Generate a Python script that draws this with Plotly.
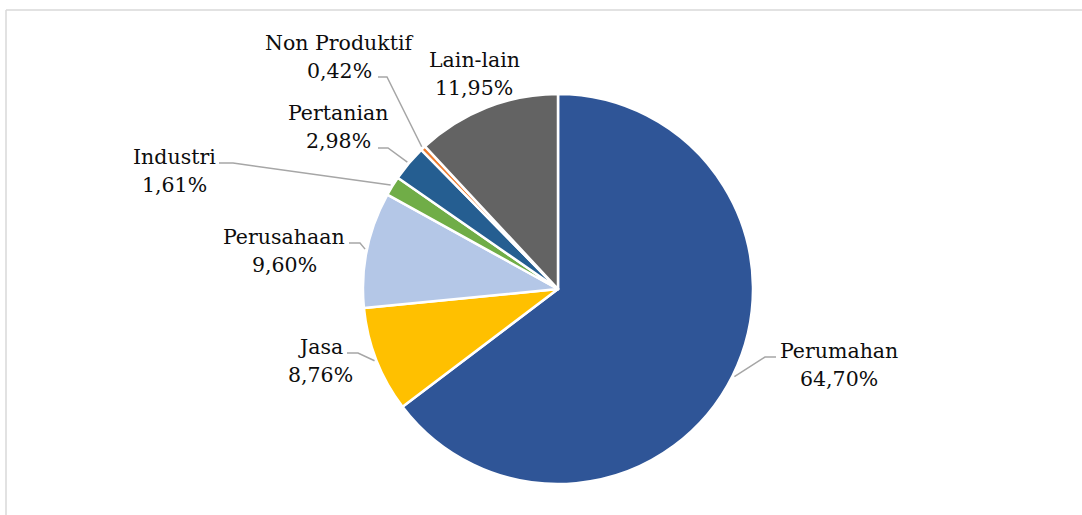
import math
import plotly.graph_objects as go

# ---- data ----
categories = ["Perumahan", "Jasa", "Perusahaan", "Industri", "Pertanian", "Non Produktif", "Lain-lain"]
shares = [64.70, 8.76, 9.60, 1.61, 2.98, 0.42, 11.95]
colors = ["#2F5597", "#FFC000", "#B4C7E7", "#70AD47", "#255E91", "#ED7D31", "#636363"]

# ---- layout (pixel positions of labels / leader elbows) ----
W, H = 1082, 515
LINE_GAP = 28
# (x center, y center of first line)
label_centers = [(839, 351), (320, 347), (284, 237), (174, 157), (338, 113), (339, 43), (474, 60)]
# leader: (x near text, x elbow, y) ; None = no leader
leaders = [(776, 765, 357), (347, 358, 353), (349, 360, 243), (219, 233, 163),
           (378, 388, 148), (378, 387, 77), None]

dom_x = [363 / W, 753 / W]
dom_y = [1 - 484 / H, 1 - 94 / H]
cx = (dom_x[0] + dom_x[1]) / 2 * W
cy = (1 - (dom_y[0] + dom_y[1]) / 2) * H
R = (dom_y[1] - dom_y[0]) * H / 2

fig = go.Figure(go.Pie(
    labels=categories, values=shares, sort=False, direction="clockwise", rotation=0,
    marker=dict(colors=colors, line=dict(color="white", width=2.5)),
    textinfo="none", hoverinfo="label+percent", showlegend=False,
    domain=dict(x=dom_x, y=dom_y),
))

def px2paper(x, y):
    return x / W, 1 - y / H

font = dict(family="DejaVu Serif", size=20.5, color="#0d0d0d")
total = sum(shares)
cum = 0
annotations = []
shapes = []
for name, v, (lx, ly), ld in zip(categories, shares, label_centers, leaders):
    mid = (cum + v / 2) / total * 2 * math.pi
    cum += v
    ex = cx + (R + 2) * math.sin(mid)
    ey = cy - (R + 2) * math.cos(mid)
    for i, txt in enumerate([name, f"{v:.2f}%".replace(".", ",")]):
        ax, ay = px2paper(lx, ly + i * LINE_GAP)
        annotations.append(dict(text=txt, x=ax, y=ay, xref="paper", yref="paper",
                                showarrow=False, xanchor="center", yanchor="middle", font=font))
    if ld:
        x1, x2, yy = ld
        p1 = px2paper(x1, yy)
        p2 = px2paper(x2, yy)
        p3 = px2paper(ex, ey)
        shapes.append(dict(type="path", xref="paper", yref="paper",
                           path=f"M {p1[0]} {p1[1]} L {p2[0]} {p2[1]} L {p3[0]} {p3[1]}",
                           line=dict(color="#A6A6A6", width=1.5)))

# frame
f0 = px2paper(6, 10)
shapes.append(dict(type="line", xref="paper", yref="paper", x0=f0[0], y0=f0[1], x1=1.0, y1=f0[1],
                   line=dict(color="#D9D9D9", width=1.5)))
shapes.append(dict(type="line", xref="paper", yref="paper", x0=f0[0], y0=f0[1], x1=f0[0], y1=0,
                   line=dict(color="#D9D9D9", width=1.5)))

fig.update_layout(width=W, height=H, autosize=False, margin=dict(l=0, r=0, t=0, b=0),
                  paper_bgcolor="white", plot_bgcolor="white",
                  annotations=annotations, shapes=shapes)
fig.write_html("out.html", config={"displayModeBar": False},
               post_script="document.body.style.margin='0';document.body.style.overflow='hidden';")
